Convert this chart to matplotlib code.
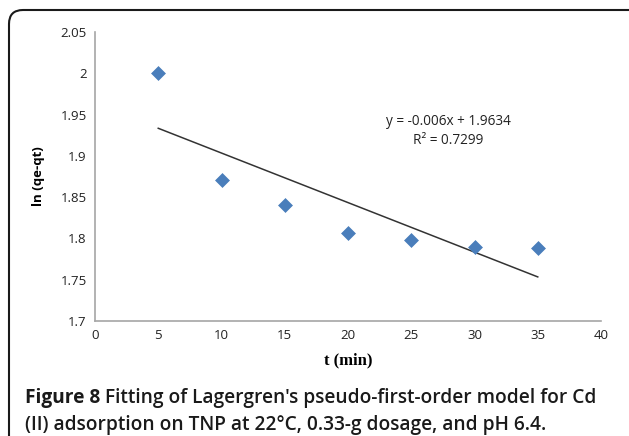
import matplotlib
matplotlib.use("Agg")
import matplotlib.pyplot as plt
from matplotlib.patches import FancyBboxPatch
import numpy as np

t_min = [5, 10, 15, 20, 25, 30, 35]
ln_qe_qt = [2.000, 1.871, 1.841, 1.807, 1.798, 1.790, 1.789]
slope = -0.006
intercept = 1.9634
x_ticks = [0, 5, 10, 15, 20, 25, 30, 35, 40]
y_ticks = [1.7, 1.75, 1.8, 1.85, 1.9, 1.95, 2.0, 2.05]
y_tick_labels = ["1.7", "1.75", "1.8", "1.85", "1.9", "1.95", "2", "2.05"]

W, H = 629, 436
fig = plt.figure(figsize=(W / 100, H / 100), dpi=100)

# rounded frame (pixel coordinates)
frame = FancyBboxPatch((9, -60), 700, (H - 10) + 60,
                       boxstyle="round,pad=0,rounding_size=14",
                       transform=None, fill=False,
                       edgecolor="#1a1a1a", linewidth=1.5)
fig.patches.append(frame)

ax = fig.add_axes([95 / W, 1 - 321 / H, (601 - 95) / W, (321 - 32) / H])
ax.scatter(t_min, ln_qe_qt, marker="D", s=50, color="#4a7ebb", zorder=3,
           edgecolors="#4a7ebb", linewidths=0.5)
xf = np.array([t_min[0], t_min[-1]])
ax.plot(xf, slope * xf + intercept, color="#333333", linewidth=1.1)

ax.set_xlim(0, 40)
ax.set_ylim(1.7, 2.05)
ax.set_xticks(x_ticks)
ax.set_yticks(y_ticks)
ax.set_yticklabels(y_tick_labels)
for s in ["top", "right"]:
    ax.spines[s].set_visible(False)
for s in ["left", "bottom"]:
    ax.spines[s].set_color("#a6a6a6")
    ax.spines[s].set_linewidth(1.2)
ax.tick_params(length=0, labelsize=9.5, colors="#222222", pad=6)
for lbl in ax.get_xticklabels() + ax.get_yticklabels():
    lbl.set_family("Open Sans")

ax.set_xlabel("t (min)", family="Liberation Serif", fontweight="bold", fontsize=12,
              labelpad=7)
ax.set_ylabel("ln (qe-qt)", family="Open Sans", fontweight="bold", fontsize=9.5,
              labelpad=11)

fig.text(448 / W, 1 - 121 / H, "y = -0.006x + 1.9634", ha="center", va="center",
         family="Open Sans", fontsize=9.8, color="#222222")
fig.text(448 / W, 1 - 141 / H, "R² = 0.7299", ha="center", va="center",
         family="Open Sans", fontsize=9.8, color="#222222")

fs_cap = 13.8
t1 = fig.text(25 / W, 1 - 398 / H, "Figure 8", ha="left", va="center",
              family="Open Sans", fontweight="bold", fontsize=fs_cap, color="#1a1a1a")
fig.canvas.draw()
bb = t1.get_window_extent()
fig.text((bb.x1 + 5) / W, 1 - 398 / H,
         "Fitting of Lagergren's pseudo-first-order model for Cd",
         ha="left", va="center", family="Open Sans", fontweight="semibold",
         fontsize=fs_cap, color="#1a1a1a")
fig.text(25 / W, 1 - 425 / H,
         "(II) adsorption on TNP at 22°C, 0.33-g dosage, and pH 6.4.",
         ha="left", va="center", family="Open Sans", fontweight="semibold",
         fontsize=fs_cap, color="#1a1a1a")

fig.savefig("out.png", dpi=100)
